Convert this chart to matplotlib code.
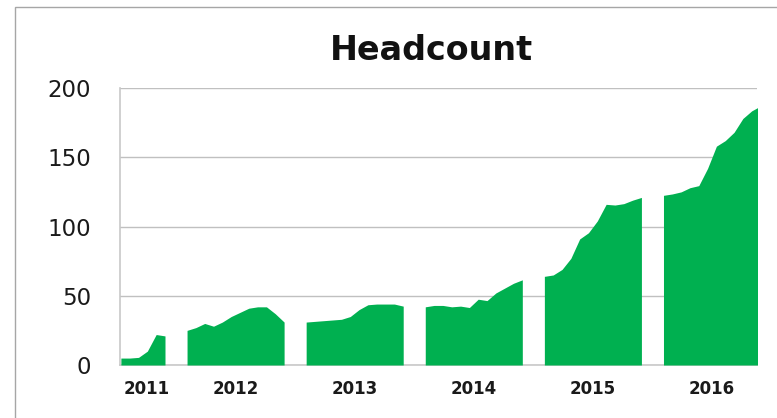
import numpy as np
import matplotlib.pyplot as plt
from matplotlib.patches import Rectangle

# monthly headcount, one list per year (2011 starts in July)
years = [2011, 2012, 2013, 2014, 2015, 2016]
first_month = [7, 1, 1, 1, 1, 1]
headcount = [
    [5, 5, 5.5, 10, 22, 21],
    [25, 27, 30, 28, 31, 35, 38, 41, 42, 42, 37, 31],
    [31, 31.5, 32, 32.5, 33, 35, 40, 43.5, 44, 44, 44, 42.5],
    [42, 43, 43, 42, 42.5, 41.5, 47.5, 46.5, 52, 55.5, 59, 61.5],
    [64, 65, 69, 77, 91, 95.5, 104, 116, 115.5, 116.5, 119, 121],
    [122.5, 123.5, 125, 128, 129.5, 142, 158, 162, 168, 178, 183.5, 187],
]
yticks = [0, 50, 100, 150, 200]

green = "#00B050"
year_width = 13.5  # months per year block, incl. the blank gap

fig = plt.figure(figsize=(7.77, 4.18), dpi=100)
fig.patches.append(Rectangle((15/777, -0.1), 1.1, 0.1 + 1 - 6.5/418,
                             transform=fig.transFigure, fill=False,
                             edgecolor="#a6a6a6", linewidth=1))
ax = fig.add_axes([120/777, 53/418, 637/777, 277/418])

centers = []
for i, (yr, m0, vals) in enumerate(zip(years, first_month, headcount)):
    x = i*year_width + np.arange(m0 - 1, m0 - 1 + len(vals))
    ax.fill_between(x, 0, vals, color=green, linewidth=0, zorder=3)
    centers.append((x[0] + x[-1]) / 2)
centers[0] += 0.4

ax.set_xlim(5.9, 78.1)
ax.set_ylim(0, 200)
ax.set_yticks(yticks)
ax.set_yticklabels([str(v) for v in yticks], fontsize=16.5, color="#1a1a1a")
ax.set_xticks(centers)
ax.set_xticklabels([str(y) for y in years], fontsize=12, fontweight="bold",
                   color="#1a1a1a")
ax.tick_params(axis="y", length=0, pad=21)
ax.tick_params(axis="x", length=0, pad=11)

ax.grid(axis="y", color="#c0c0c0", linewidth=1)
ax.set_axisbelow(True)
for side in ("top", "right"):
    ax.spines[side].set_visible(False)
for side in ("left", "bottom"):
    ax.spines[side].set_color("#c8c8c8")
    ax.spines[side].set_linewidth(1.2)

fig.text(431.5/777, 1 - 60/418, "Headcount", ha="center", va="baseline",
         fontsize=24, fontweight="bold", color="#111111")

fig.savefig("out.png", dpi=100)
